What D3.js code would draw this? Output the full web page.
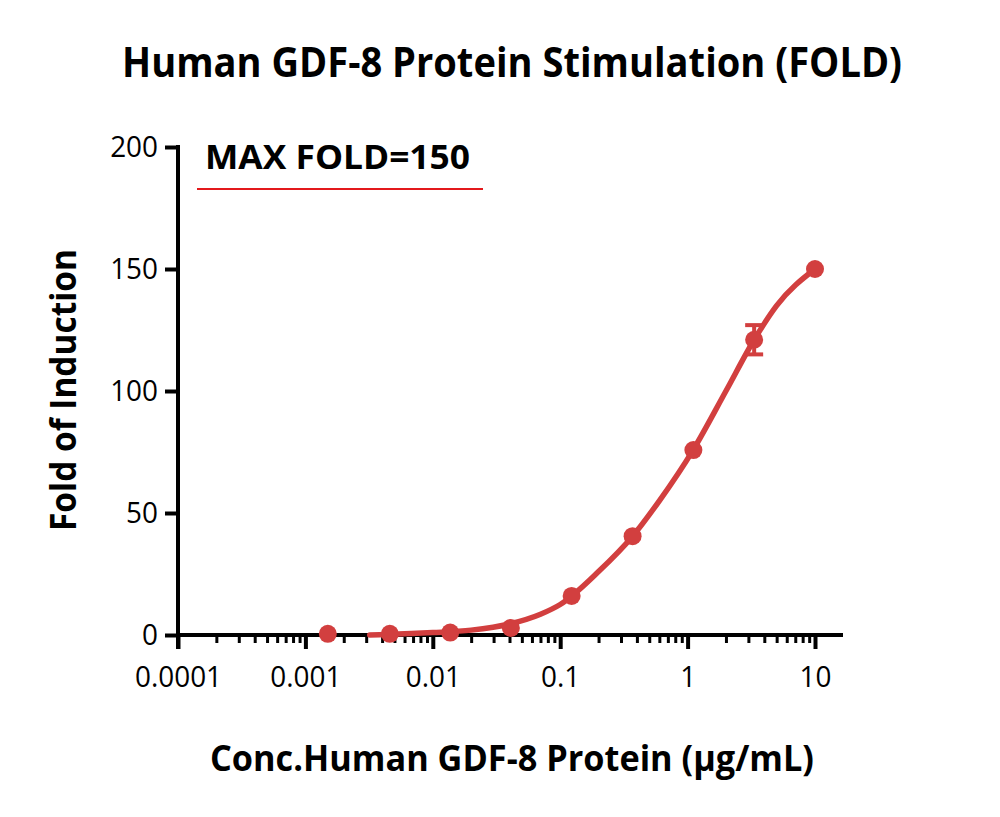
<!DOCTYPE html>
<html>
<head>
<meta charset="utf-8">
<script src="https://cdn.jsdelivr.net/npm/d3@7"></script>
<style>
  body { margin: 0; background: #fff; }
  svg { display: block; font-family: 'Open Sans', sans-serif; }
</style>
</head>
<body>
<script>
// measured points (conc in ug/mL, fold of induction)
const conc = [0.0015, 0.0046, 0.0137, 0.041, 0.123, 0.37, 1.11, 3.33, 10]
const fold = [0.5, 0.5, 1, 2.9, 16, 40.5, 75.8, 121, 150]
const errUp = [0, 0, 0, 0, 0, 0, 0, 6, 0]
const errDown = [0, 0, 0, 0, 0, 0, 0, 6, 0]

// fitted curve
const fitConc = [0.0032, 0.006, 0.01, 0.02, 0.04, 0.07, 0.1, 0.2, 0.37, 0.6, 1.11, 2, 3.33, 5, 10]
const fitFold = [0, 0.5, 1, 2, 4.5, 8.5, 12.5, 26, 40.5, 55, 76, 100, 121, 135, 150]

const xTicks = [0.0001, 0.001, 0.01, 0.1, 1, 10]
const xTickLabels = ['0.0001', '0.001', '0.01', '0.1', '1', '10']
const yTicks = [0, 50, 100, 150, 200]

const w = 1000
const h = 817
const red = '#d23f3f'

const svg = d3.select('body')
  .append('svg')
  .attr('width', w)
  .attr('height', h)

const x = d3.scaleLog()
  .domain([0.0001, 10])
  .range([178, 815])

const y = d3.scaleLinear()
  .domain([0, 200])
  .range([635, 147])

// squeeze text to the narrow width of the original font
const squeeze = (sel, width) => {
  const len = sel.node().getComputedTextLength()
  if (len > width) sel.attr('textLength', width).attr('lengthAdjust', 'spacingAndGlyphs')
}

// title
squeeze(svg.append('text')
  .attr('x', 512).attr('y', 77)
  .attr('text-anchor', 'middle')
  .attr('font-weight', 'bold')
  .attr('font-size', 42)
  .text('Human GDF-8 Protein Stimulation (FOLD)'), 780)

// x axis
const xMinor = []
for (let e = -4; e < 1; e++) {
  for (let k = 2; k <= 9; k++) xMinor.push(k * Math.pow(10, e))
}

const xAxisMajor = d3.axisBottom(x).tickValues(xTicks).tickSize(14).tickFormat((d, i) => xTickLabels[i])
const xAxisMinor = d3.axisBottom(x).tickValues(xMinor).tickSize(8).tickFormat('')

const gxMinor = svg.append('g')
  .attr('transform', 'translate(0,635)')
  .call(xAxisMinor)
gxMinor.select('.domain').remove()
gxMinor.selectAll('line').attr('stroke', '#000').attr('stroke-width', 3)

const gx = svg.append('g')
  .attr('transform', 'translate(0,635)')
  .call(xAxisMajor)
gx.select('.domain').remove()
gx.selectAll('line').attr('stroke', '#000').attr('stroke-width', 4)
gx.selectAll('text')
  .attr('font-size', 30)
  .attr('font-family', 'Open Sans')
  .attr('fill', '#000')
  .attr('dy', null)
  .attr('y', 52)
  .each(function () { squeeze(d3.select(this), this.getComputedTextLength() * 0.93) })

svg.append('line')
  .attr('x1', 176).attr('x2', 843)
  .attr('y1', 635).attr('y2', 635)
  .attr('stroke', '#000').attr('stroke-width', 4)

// y axis
const gy = svg.append('g')
  .attr('transform', 'translate(178,0)')
  .call(d3.axisLeft(y).tickValues(yTicks).tickSize(13))
gy.select('.domain').remove()
gy.selectAll('line').attr('stroke', '#000').attr('stroke-width', 4)
gy.selectAll('text')
  .attr('font-size', 30)
  .attr('font-family', 'Open Sans')
  .attr('fill', '#000')
  .attr('x', -20)
  .each(function () { squeeze(d3.select(this), this.getComputedTextLength() * 0.93) })

svg.append('line')
  .attr('x1', 178).attr('x2', 178)
  .attr('y1', 145).attr('y2', 649)
  .attr('stroke', '#000').attr('stroke-width', 4)

// axis titles
squeeze(svg.append('text')
  .attr('x', 512).attr('y', 771)
  .attr('text-anchor', 'middle')
  .attr('font-weight', 'bold')
  .attr('font-size', 35)
  .text('Conc.Human GDF-8 Protein (µg/mL)'), 604)

squeeze(svg.append('text')
  .attr('transform', 'translate(76,390) rotate(-90)')
  .attr('text-anchor', 'middle')
  .attr('font-weight', 'bold')
  .attr('font-size', 36)
  .text('Fold of Induction'), 282)

// legend
svg.append('text')
  .attr('x', 205).attr('y', 169)
  .attr('font-weight', 'bold')
  .attr('font-size', 34)
  .attr('textLength', 265)
  .attr('lengthAdjust', 'spacingAndGlyphs')
  .text('MAX FOLD=150')

svg.append('line')
  .attr('x1', 197).attr('x2', 483)
  .attr('y1', 189).attr('y2', 189)
  .attr('stroke', '#e3191c').attr('stroke-width', 2)

// fit curve
const fitData = fitConc.map((c, i) => ({ c: c, v: fitFold[i] }))
const line = d3.line()
  .x(d => x(d.c))
  .y(d => y(d.v))
  .curve(d3.curveMonotoneX)

svg.append('path')
  .datum(fitData)
  .attr('d', line)
  .attr('fill', 'none')
  .attr('stroke', red)
  .attr('stroke-width', 5.5)
  .attr('stroke-linecap', 'round')

// points + error bars
const pts = conc.map((c, i) => ({ c: c, v: fold[i], up: errUp[i], down: errDown[i] }))
const eb = svg.selectAll('.eb')
  .data(pts.filter(d => d.up > 0))
  .enter()
  .append('g')
  .attr('class', 'eb')
eb.append('line')
  .attr('x1', d => x(d.c)).attr('x2', d => x(d.c))
  .attr('y1', d => y(d.v + d.up)).attr('y2', d => y(d.v - d.down))
  .attr('stroke', red).attr('stroke-width', 4)
eb.append('line')
  .attr('x1', d => x(d.c) - 9).attr('x2', d => x(d.c) + 9)
  .attr('y1', d => y(d.v + d.up)).attr('y2', d => y(d.v + d.up))
  .attr('stroke', red).attr('stroke-width', 4)
eb.append('line')
  .attr('x1', d => x(d.c) - 9).attr('x2', d => x(d.c) + 9)
  .attr('y1', d => y(d.v - d.down)).attr('y2', d => y(d.v - d.down))
  .attr('stroke', red).attr('stroke-width', 4)

svg.selectAll('circle')
  .data(pts)
  .enter()
  .append('circle')
  .attr('cx', d => x(d.c))
  .attr('cy', d => y(d.v))
  .attr('r', 9)
  .attr('fill', red)
</script>
</body>
</html>
